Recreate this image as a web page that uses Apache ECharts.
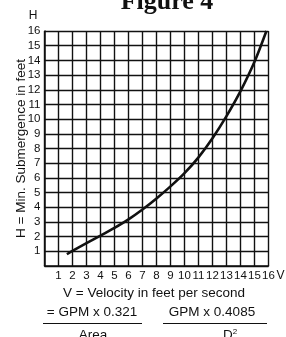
<!DOCTYPE html>
<html>
<head>
<meta charset="utf-8">
<script src="https://cdn.jsdelivr.net/npm/echarts@6/dist/echarts.min.js"></script>
<style>
  html, body { margin: 0; padding: 0; background: #fff; }
  #chart { width: 286px; height: 337px; }
</style>
</head>
<body>
<div id="chart"></div>
<script>
// curve: velocity (ft/s) vs min. submergence (ft)
const velocity = [1.6, 2, 3, 4, 5, 6, 7, 8, 9, 10, 11, 12, 13, 14, 15, 15.85]
const submergence = [0.8, 1.03, 1.56, 2.07, 2.6, 3.18, 3.85, 4.6, 5.42, 6.32, 7.4, 8.7, 10.2, 11.9, 13.9, 16]
const axisMin = 0
const axisMax = 16

const font = "'Liberation Sans', sans-serif"
const ink = '#111'

const chart = echarts.init(document.getElementById('chart'))

const hideZero = (v) => (v === 0 ? '' : String(v))

chart.setOption({
  animation: false,
  backgroundColor: '#fff',
  grid: { left: 44.5, top: 31, right: 17.5, bottom: 71, outerBoundsMode: 'none' },
  xAxis: {
    type: 'value',
    min: axisMin, max: axisMax, interval: 1,
    name: 'V',
    nameLocation: 'end',
    nameGap: 8,
    nameMoveOverlap: false,
    nameTextStyle: { color: ink, fontSize: 12, fontFamily: font, verticalAlign: 'top', padding: [4, 0, 0, 0] },
    axisLine: { lineStyle: { color: ink, width: 1.5 } },
    axisTick: { show: false },
    axisLabel: { color: ink, fontSize: 11.5, fontFamily: font, margin: 4, formatter: hideZero },
    splitLine: { lineStyle: { color: ink, width: 1.4 } },
  },
  yAxis: {
    type: 'value',
    min: axisMin, max: axisMax, interval: 1,
    name: 'H = Min. Submergence in feet',
    nameLocation: 'middle',
    nameGap: 16,
    nameMoveOverlap: false,
    nameRotate: 90,
    nameTextStyle: { color: ink, fontSize: 13.5, fontFamily: font },
    axisLine: { lineStyle: { color: ink, width: 1.5 } },
    axisTick: { show: false },
    axisLabel: { color: ink, fontSize: 11.5, fontFamily: font, margin: 4, formatter: hideZero },
    splitLine: { lineStyle: { color: ink, width: 1.4 } },
  },
  series: [{
    type: 'line',
    data: velocity.map((v, i) => [v, submergence[i]]),
    smooth: 0.3,
    symbol: 'none',
    lineStyle: { color: ink, width: 2.6 },
  }],
  graphic: [
    { type: 'text', x: 167, y: 2, style: { text: 'Figure 4', font: "bold 26px 'Liberation Serif', serif", fill: ink, align: 'center', verticalAlign: 'middle' } },
    { type: 'text', x: 33, y: 16, style: { text: 'H', font: '12px ' + font, fill: ink, align: 'center', verticalAlign: 'middle' } },
    { type: 'text', x: 154, y: 293, style: { text: 'V = Velocity in feet per second', font: '13.5px ' + font, fill: ink, align: 'center', verticalAlign: 'middle' } },
    { type: 'text', x: 92, y: 312, style: { text: '= GPM x 0.321', font: '13.5px ' + font, fill: ink, align: 'center', verticalAlign: 'middle' } },
    { type: 'line', shape: { x1: 43, y1: 323.5, x2: 142, y2: 323.5 }, style: { stroke: ink, lineWidth: 1 } },
    { type: 'text', x: 93, y: 335, style: { text: 'Area', font: '13.5px ' + font, fill: ink, align: 'center', verticalAlign: 'middle' } },
    { type: 'text', x: 212, y: 312, style: { text: 'GPM x 0.4085', font: '13.5px ' + font, fill: ink, align: 'center', verticalAlign: 'middle' } },
    { type: 'line', shape: { x1: 163, y1: 323.5, x2: 267, y2: 323.5 }, style: { stroke: ink, lineWidth: 1 } },
    { type: 'text', x: 230, y: 335, style: { rich: { b: { font: '13.5px ' + font, fill: ink }, s: { font: '8px ' + font, fill: ink, verticalAlign: 'top', padding: [0, 0, 6, 0] } }, text: '{b|D}{s|2}', align: 'center', verticalAlign: 'middle' } },
  ],
})
</script>
</body>
</html>
